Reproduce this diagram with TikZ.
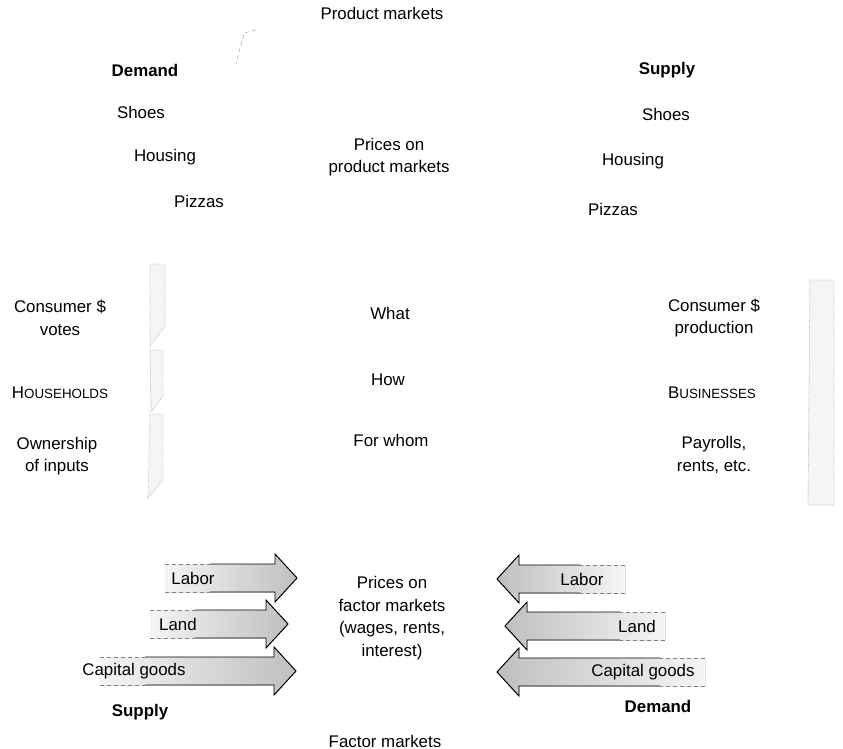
\documentclass[tikz,border=0pt]{standalone}
\usepackage{fontspec}
\setmainfont{Liberation Sans}
\usetikzlibrary{positioning}

% fake small caps for the two sector names
\newcommand{\fakesc}[2]{#1{\fontsize{9.5}{11}\selectfont #2}}
% block arrows of the factor markets: tail x, tip x, y
\newcommand{\flowright}[3]{%
  \fill[left color=gray!8, right color=gray!50] (#1,#3-14) -- (#2-22,#3-14) -- (#2-22,#3-24) -- (#2,#3) -- (#2-22,#3+24) -- (#2-22,#3+14) -- (#1,#3+14) -- cycle;
  \draw[line width=0.7pt] (#1+45,#3-14) -- (#2-22,#3-14) -- (#2-22,#3-24) -- (#2,#3) -- (#2-22,#3+24) -- (#2-22,#3+14) -- (#1+45,#3+14);
  \draw[densely dashed, gray, line width=0.5pt] (#1,#3-14) -- (#1+45,#3-14) (#1,#3+14) -- (#1+45,#3+14);}
\newcommand{\flowleft}[3]{%
  \fill[right color=gray!8, left color=gray!50] (#1,#3-14) -- (#2+22,#3-14) -- (#2+22,#3-24) -- (#2,#3) -- (#2+22,#3+24) -- (#2+22,#3+14) -- (#1,#3+14) -- cycle;
  \draw[line width=0.7pt] (#1-45,#3-14) -- (#2+22,#3-14) -- (#2+22,#3-24) -- (#2,#3) -- (#2+22,#3+24) -- (#2+22,#3+14) -- (#1-45,#3+14);
  \draw[densely dashed, gray, line width=0.5pt] (#1,#3-14) -- (#1-45,#3-14) (#1,#3+14) -- (#1-45,#3+14);}

\begin{document}
\begin{tikzpicture}[
    x=0.025cm, y=-0.025cm,
    txt/.style={align=center, inner sep=1pt, font=\fontsize{12}{16}\selectfont},
    boldtxt/.style={txt, font=\fontsize{12}{16}\selectfont\bfseries},
    strip/.style={fill=gray!8, draw=gray!55, densely dotted, line width=0.6pt}
]
\useasboundingbox (0,0) rectangle (843,749);

% faint remains of the shaded frames
\draw[gray!55, densely dashed, line width=0.5pt] (256,30) -- (244,33) -- (236,64);
\draw[strip] (150,264) -- (165,264) -- (165,326) -- (150,346) -- cycle;
\draw[strip] (150,350) -- (163,350) -- (163,396) -- (151,412) -- cycle;
\draw[strip] (150,414) -- (163,414) -- (163,480) -- (148,498) -- cycle;
\draw[strip] (810,280) -- (834,280) -- (834,505) -- (808,505) -- cycle;

% product markets
\node[txt] (pm) at (382,13) {Product markets};
\node[boldtxt] (dem) at (145,70) {Demand};
\node[txt] (dshoes) at (141,112) {Shoes};
\node[txt] (dhouse) at (165,157) {Housing};
\node[txt] (dpizza) at (199,201) {Pizzas};
\node[boldtxt] (sup) at (667,70) {Supply};
\node[txt] (sshoes) at (666,114) {Shoes};
\node[txt] (shouse) at (633,161) {Housing};
\node[txt] (spizza) at (613,209) {Pizzas};
\node[txt] (pprices) at (389,157) {Prices on\\product markets};

% households, questions, businesses
\node[txt] (hvotes) at (60,318) {Consumer \$\\votes};
\node[txt] (what) at (390,313) {What};
\node[txt] (bprod) at (714,318) {Consumer \$\\production};
\node[txt] (hh) at (60,393) {\fakesc{H}{OUSEHOLDS}};
\node[txt] (how) at (388,380) {How};
\node[txt] (bus) at (712,393) {\fakesc{B}{USINESSES}};
\node[txt] (hown) at (57,456) {Ownership\\of inputs};
\node[txt] (whom) at (391,440) {For whom};
\node[txt] (bpay) at (714,455) {Payrolls,\\rents, etc.};

% factor markets
\flowright{165}{297}{578}
\flowright{150}{288}{624}
\flowright{100}{296}{671}
\flowleft{625}{497}{579}
\flowleft{665}{505}{626}
\flowleft{705}{497}{672}
\node[txt] (slabor) at (193,578) {Labor};
\node[txt] (sland) at (178,624) {Land};
\node[txt] (scap) at (134,671) {Capital goods};
\node[txt] (dlabor) at (582,579) {Labor};
\node[txt] (dland) at (637,626) {Land};
\node[txt] (dcap) at (643,672) {Capital goods};
\node[txt] (fprices) at (392,618) {Prices on\\factor markets\\(wages, rents,\\interest)};
\node[boldtxt] (fsup) at (140,712) {Supply};
\node[boldtxt] (fdem) at (658,706) {Demand};
\node[txt] (fm) at (385,741) {Factor markets};
\end{tikzpicture}
\end{document}
